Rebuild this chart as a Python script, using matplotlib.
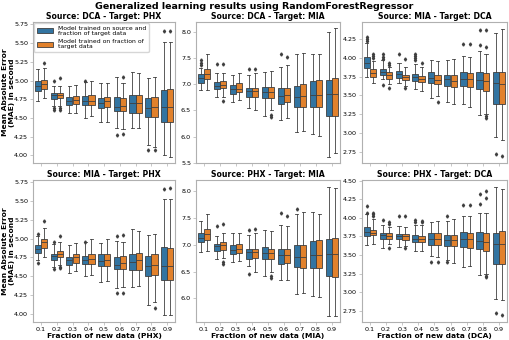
import numpy as np
import matplotlib.pyplot as plt
from matplotlib.patches import Patch

fractions = ["0.1", "0.2", "0.3", "0.4", "0.5", "0.6", "0.7", "0.8", "0.9"]
labels = ["Model trained on source and\nfraction of target data",
          "Model trained on fraction of\ntarget data"]
colors = ["#3274a1", "#e1812c"]

# each row: whislo, q1, median, q3, whishi
# "src" = trained on source + fraction of target, "tgt" = fraction of target only
src_dca_phx = [[4.72, 4.86, 4.92, 4.99, 5.16], [4.66, 4.75, 4.80, 4.83, 4.93],
               [4.57, 4.67, 4.73, 4.78, 4.93], [4.50, 4.67, 4.73, 4.79, 4.98],
               [4.45, 4.63, 4.70, 4.77, 4.97], [4.36, 4.59, 4.65, 4.78, 5.05],
               [4.37, 4.57, 4.70, 4.81, 5.11], [4.14, 4.51, 4.63, 4.76, 5.03],
               [4.00, 4.44, 4.64, 4.87, 5.51]]
tgt_dca_phx = [[4.76, 4.89, 4.95, 5.01, 5.17], [4.66, 4.76, 4.80, 4.83, 4.93],
               [4.57, 4.68, 4.74, 4.79, 4.94], [4.53, 4.67, 4.73, 4.80, 4.99],
               [4.44, 4.64, 4.72, 4.78, 4.97], [4.35, 4.59, 4.66, 4.77, 4.96],
               [4.37, 4.57, 4.70, 4.81, 5.10], [4.11, 4.51, 4.64, 4.78, 5.05],
               [3.98, 4.45, 4.64, 4.88, 5.51]]
src_dca_phx_fl = [[], [4.60, 4.63, 5.00], [], [4.99], [], [4.27], [], [4.07], [5.66]]
tgt_dca_phx_fl = [[5.23], [4.61, 4.63, 5.03], [], [], [], [4.28, 5.05], [], [4.07], [5.66]]

src_dca_mia = [[6.89, 7.03, 7.12, 7.20, 7.30], [6.75, 6.90, 6.96, 7.04, 7.22],
               [6.66, 6.82, 6.90, 6.99, 7.17], [6.54, 6.75, 6.86, 6.93, 7.18],
               [6.40, 6.74, 6.85, 6.95, 7.23], [6.32, 6.63, 6.78, 6.93, 7.33],
               [6.08, 6.57, 6.75, 6.97, 7.58], [6.04, 6.57, 6.80, 7.06, 7.58],
               [5.62, 6.40, 6.82, 7.08, 8.00]]
tgt_dca_mia = [[6.89, 7.09, 7.19, 7.29, 7.58], [6.76, 6.92, 6.99, 7.06, 7.22],
               [6.69, 6.84, 6.90, 7.02, 7.22], [6.50, 6.75, 6.87, 6.93, 7.22],
               [6.50, 6.74, 6.84, 6.94, 7.24], [6.35, 6.66, 6.79, 6.92, 7.36],
               [6.10, 6.57, 6.78, 7.00, 7.60], [6.02, 6.57, 6.80, 7.07, 7.58],
               [5.68, 6.40, 6.82, 7.12, 8.06]]
src_dca_mia_fl = [[7.36, 7.41, 7.45], [7.38], [], [7.28], [], [7.58], [], [], []]
tgt_dca_mia_fl = [[], [7.38, 6.67], [], [7.29], [6.41, 6.38], [7.52], [], [], []]

src_mia_dca = [[3.75, 3.87, 3.93, 4.01, 4.20], [3.72, 3.77, 3.82, 3.85, 3.97],
               [3.66, 3.74, 3.79, 3.83, 3.93], [3.58, 3.70, 3.75, 3.79, 3.92],
               [3.46, 3.66, 3.74, 3.81, 3.98], [3.41, 3.63, 3.72, 3.78, 3.97],
               [3.38, 3.63, 3.72, 3.82, 4.03], [3.24, 3.58, 3.71, 3.82, 4.09],
               [2.94, 3.39, 3.66, 3.82, 4.34]]
tgt_mia_dca = [[3.66, 3.75, 3.80, 3.85, 3.96], [3.65, 3.72, 3.77, 3.81, 3.88],
               [3.62, 3.71, 3.75, 3.78, 3.88], [3.56, 3.68, 3.72, 3.76, 3.88],
               [3.49, 3.65, 3.71, 3.78, 3.96], [3.39, 3.61, 3.70, 3.77, 3.99],
               [3.35, 3.61, 3.72, 3.80, 4.01], [3.25, 3.56, 3.69, 3.80, 4.06],
               [2.90, 3.38, 3.65, 3.82, 4.39]]
src_mia_dca_fl = [[4.23, 4.25, 4.28], [3.99, 4.02, 4.05, 3.64], [4.05], [3.97, 4.00, 4.03, 4.05],
                  [], [], [4.19], [4.18, 4.37], [2.72]]
tgt_mia_dca_fl = [[4.00, 4.03, 4.05], [3.91, 3.93, 3.60], [3.99, 3.60], [3.93],
                  [3.41], [], [4.19], [4.15, 4.37, 3.22, 3.20], [2.69]]

src_mia_phx = [[4.71, 4.81, 4.86, 4.91, 5.03], [4.62, 4.71, 4.77, 4.80, 4.93],
               [4.54, 4.65, 4.71, 4.76, 4.91], [4.50, 4.66, 4.71, 4.77, 4.95],
               [4.42, 4.63, 4.70, 4.79, 4.94], [4.34, 4.59, 4.65, 4.76, 4.97],
               [4.36, 4.58, 4.69, 4.80, 5.12], [4.12, 4.50, 4.64, 4.77, 5.05],
               [3.98, 4.45, 4.63, 4.89, 5.52]]
tgt_mia_phx = [[4.75, 4.88, 4.95, 4.99, 5.14], [4.65, 4.75, 4.80, 4.84, 4.95],
               [4.57, 4.67, 4.75, 4.80, 4.94], [4.52, 4.66, 4.73, 4.80, 4.99],
               [4.43, 4.64, 4.72, 4.79, 4.99], [4.35, 4.59, 4.67, 4.77, 4.96],
               [4.37, 4.58, 4.71, 4.81, 5.10], [4.16, 4.51, 4.65, 4.79, 5.06],
               [3.98, 4.45, 4.64, 4.88, 5.53]]
src_mia_phx_fl = [[5.06, 4.67], [4.95, 4.59], [], [4.96], [], [5.03, 4.28], [], [], [5.66]]
tgt_mia_phx_fl = [[5.23], [5.04, 4.62, 4.61], [], [], [], [5.05, 4.28], [], [4.07], [5.67]]

src_phx_mia = [[6.86, 7.05, 7.13, 7.22, 7.45], [6.73, 6.89, 6.97, 7.02, 7.17],
               [6.67, 6.82, 6.90, 6.99, 7.22], [6.60, 6.74, 6.86, 6.93, 7.18],
               [6.41, 6.73, 6.85, 6.95, 7.28], [6.34, 6.65, 6.80, 6.93, 7.37],
               [6.09, 6.58, 6.77, 7.00, 7.58], [6.05, 6.56, 6.80, 7.07, 7.61],
               [5.68, 6.41, 6.82, 7.10, 8.08]]
tgt_phx_mia = [[6.88, 7.08, 7.20, 7.29, 7.58], [6.76, 6.91, 6.99, 7.05, 7.22],
               [6.69, 6.84, 6.92, 7.02, 7.22], [6.50, 6.75, 6.87, 6.93, 7.22],
               [6.50, 6.74, 6.84, 6.93, 7.26], [6.35, 6.66, 6.80, 6.92, 7.35],
               [6.10, 6.57, 6.77, 7.00, 7.61], [6.02, 6.56, 6.80, 7.08, 7.58],
               [5.68, 6.40, 6.82, 7.13, 8.06]]
src_phx_mia_fl = [[], [7.35], [], [7.27, 6.45], [], [7.59], [7.66], [], []]
tgt_phx_mia_fl = [[], [7.38, 6.68, 6.65], [], [7.29], [6.41, 6.38], [7.53], [], [], []]

src_phx_dca = [[3.64, 3.75, 3.81, 3.87, 4.05], [3.60, 3.72, 3.77, 3.80, 3.90],
               [3.61, 3.71, 3.76, 3.78, 3.89], [3.56, 3.68, 3.72, 3.77, 3.90],
               [3.49, 3.63, 3.72, 3.79, 3.95], [3.43, 3.62, 3.70, 3.77, 3.96],
               [3.34, 3.61, 3.71, 3.81, 4.03], [3.23, 3.58, 3.69, 3.81, 4.07],
               [2.91, 3.38, 3.65, 3.80, 4.42]]
tgt_phx_dca = [[3.65, 3.77, 3.80, 3.84, 3.99], [3.65, 3.72, 3.76, 3.80, 3.88],
               [3.62, 3.70, 3.75, 3.78, 3.88], [3.55, 3.68, 3.72, 3.76, 3.90],
               [3.48, 3.63, 3.72, 3.79, 3.96], [3.39, 3.62, 3.70, 3.77, 3.99],
               [3.35, 3.60, 3.71, 3.80, 4.02], [3.25, 3.56, 3.68, 3.79, 4.06],
               [2.90, 3.38, 3.65, 3.82, 4.39]]
src_phx_dca_fl = [[4.16, 4.06], [3.97], [4.02], [3.97, 3.95], [3.41], [4.02, 3.41],
                  [4.17], [4.19, 4.32], [2.72]]
tgt_phx_dca_fl = [[4.02, 4.05, 4.07], [3.92, 3.94, 3.60], [4.02, 3.60], [3.96, 3.94],
                  [3.41], [], [4.17], [4.26, 4.36, 3.22, 3.21], [2.69]]

panels = [
    ("Source: DCA - Target: PHX", src_dca_phx, tgt_dca_phx, src_dca_phx_fl, tgt_dca_phx_fl,
     [4.0, 4.25, 4.5, 4.75, 5.0, 5.25, 5.5, 5.75], (3.90, 5.78), "PHX"),
    ("Source: DCA - Target: MIA", src_dca_mia, tgt_dca_mia, src_dca_mia_fl, tgt_dca_mia_fl,
     [5.5, 6.0, 6.5, 7.0, 7.5, 8.0], (5.50, 8.18), "MIA"),
    ("Source: MIA - Target: DCA", src_mia_dca, tgt_mia_dca, src_mia_dca_fl, tgt_mia_dca_fl,
     [2.75, 3.0, 3.25, 3.5, 3.75, 4.0, 4.25], (2.60, 4.48), "DCA"),
    ("Source: MIA - Target: PHX", src_mia_phx, tgt_mia_phx, src_mia_phx_fl, tgt_mia_phx_fl,
     [4.0, 4.25, 4.5, 4.75, 5.0, 5.25, 5.5, 5.75], (3.89, 5.78), "PHX"),
    ("Source: PHX - Target: MIA", src_phx_mia, tgt_phx_mia, src_phx_mia_fl, tgt_phx_mia_fl,
     [6.0, 6.5, 7.0, 7.5, 8.0], (5.56, 8.21), "MIA"),
    ("Source: PHX - Target: DCA", src_phx_dca, tgt_phx_dca, src_phx_dca_fl, tgt_phx_dca_fl,
     [2.75, 3.0, 3.25, 3.5, 3.75, 4.0, 4.25, 4.5], (2.60, 4.51), "DCA"),
]


def to_stats(rows, fliers):
    out = []
    for r, f in zip(rows, fliers):
        out.append(dict(whislo=r[0], q1=r[1], med=r[2], q3=r[3], whishi=r[4], fliers=f))
    return out


fig = plt.figure(figsize=(5.09, 3.40), dpi=100)
lefts = [0.065, 0.385, 0.711]
widths = [0.279, 0.283, 0.285]
rows_y = [(0.521, 0.414), (0.053, 0.418)]
gray = "#3f3f3f"
spine_c = "#b0b0b0"

for i, (title, src, tgt, src_fl, tgt_fl, yticks, ylim, tgt_name) in enumerate(panels):
    r, c = divmod(i, 3)
    ax = fig.add_axes([lefts[c], rows_y[r][0], widths[c], rows_y[r][1]])
    x = np.arange(len(fractions))
    for k, (rows, fl) in enumerate([(src, src_fl), (tgt, tgt_fl)]):
        pos = x + (-0.2 if k == 0 else 0.2)
        ax.bxp(to_stats(rows, fl), positions=pos, widths=0.392, patch_artist=True,
               boxprops=dict(facecolor=colors[k], edgecolor=gray, linewidth=0.6),
               whiskerprops=dict(color=gray, linewidth=0.6),
               capprops=dict(color=gray, linewidth=0.6),
               medianprops=dict(color=gray, linewidth=0.6),
               flierprops=dict(marker="d", markersize=1.6, markerfacecolor=gray,
                               markeredgecolor=gray, linestyle="none"),
               manage_ticks=False)
    ax.set_xlim(-0.5, len(fractions) - 0.5)
    ax.set_ylim(*ylim)
    ax.set_yticks(yticks)
    ax.set_xticks(x)
    ax.set_title(title, fontsize=5.6, fontweight="bold", pad=2)
    ax.tick_params(labelsize=4.6, length=2, width=0.5, pad=1.5, color=spine_c)
    for s in ax.spines.values():
        s.set_color(spine_c)
        s.set_linewidth(0.8)
    if r == 0:
        ax.set_xticklabels([])
    else:
        ax.set_xticklabels(fractions)
        ax.set_xlabel("Fraction of new data (%s)" % tgt_name, fontsize=5.4,
                      fontweight="bold", labelpad=1)
    if c == 0:
        ax.set_ylabel("Mean Absolute Error\n(MAE) in second", fontsize=5.4,
                      fontweight="bold", linespacing=1.05)
        ax.yaxis.set_label_coords(-0.13, 0.5)
    if i == 0:
        handles = [Patch(facecolor=colors[0], edgecolor=gray, linewidth=0.6),
                   Patch(facecolor=colors[1], edgecolor=gray, linewidth=0.6)]
        leg = ax.legend(handles, labels, loc="upper left", fontsize=4.4, frameon=True,
                        edgecolor="#cccccc", handlelength=2.6, handleheight=0.8,
                        borderpad=0.45, labelspacing=0.6, handletextpad=0.8,
                        borderaxespad=0.15)
        for t in leg.get_texts():
            t.set_linespacing(1.0)

fig.suptitle("Generalized learning results using RandomForestRegressor",
             fontsize=6.8, fontweight="bold", y=0.995)
fig.savefig("out.png", dpi=100)
